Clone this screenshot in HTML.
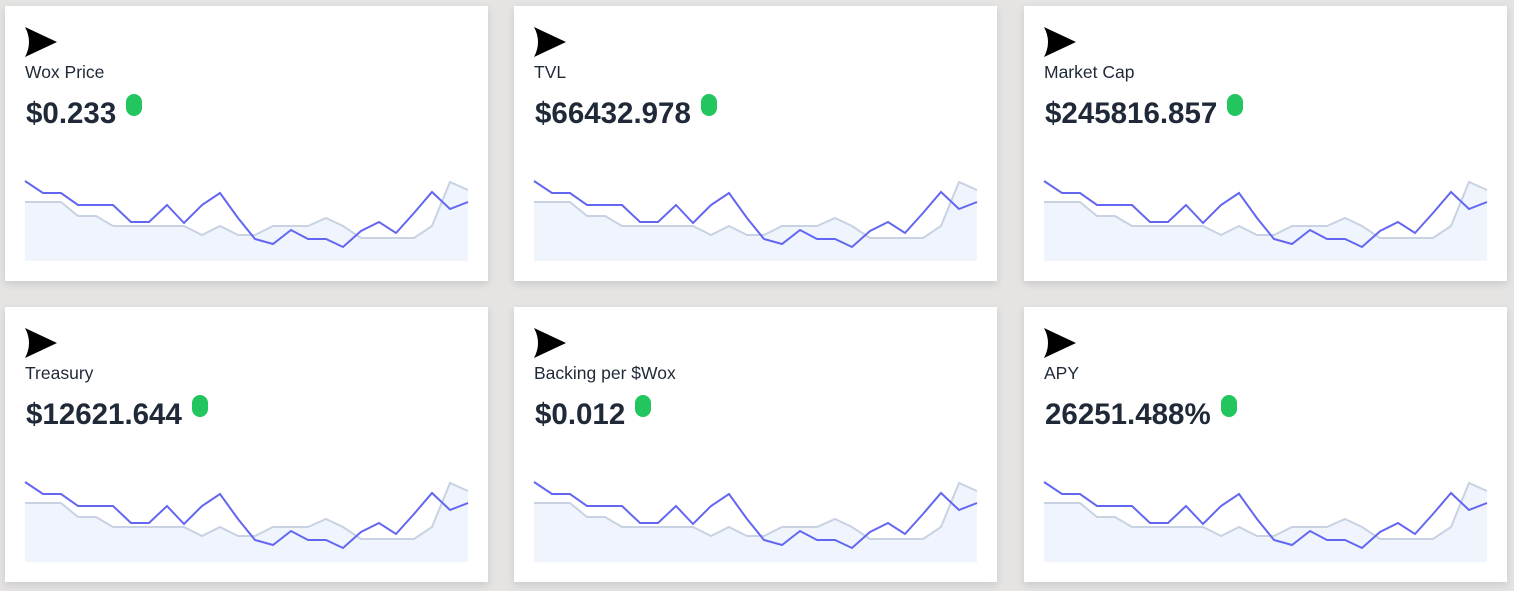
<!DOCTYPE html>
<html><head><style>
body{margin:0;width:1514px;height:591px;background:#e5e4e3;position:relative;overflow:hidden;font-family:"Liberation Sans",sans-serif;}
.c{position:absolute;width:483px;height:275px;background:#fff;box-shadow:0 3px 8px rgba(0,0,0,0.12);}
.c svg{position:absolute;left:0;top:0}
.l{position:absolute;left:20px;top:56px;font-size:17.5px;color:#1f2937;}
.v{position:absolute;left:21px;top:91px;font-size:29.5px;font-weight:bold;color:#1f2937;white-space:nowrap}
.v i{display:inline-block;width:16px;height:22px;border-radius:8px;background:#22c55e;vertical-align:top;margin-left:10px;margin-top:-3px}
</style></head><body>
<div class="c" style="left:5px;top:6px"><svg width="483" height="275"><path d="M20,21 L52,36 L20,51 Q28,36 20,21Z" fill="#000"/><polygon points="20,196 38,196 56,196 73,210 91,210 108,220 126,220 144,220 162,220 179,220 197,229 215,220 233,229 250,229 268,220 286,220 303,220 321,212 338,220 356,232 374,232 391,232 409,232 427,220 445,176 463,184 463,255 20,255" fill="#eff4fd"/><polyline points="20,196 38,196 56,196 73,210 91,210 108,220 126,220 144,220 162,220 179,220 197,229 215,220 233,229 250,229 268,220 286,220 303,220 321,212 338,220 356,232 374,232 391,232 409,232 427,220 445,176 463,184" fill="none" stroke="#c8d2e2" stroke-width="2"/><polyline points="20,175 38,187 56,187 73,199 91,199 108,199 126,216 144,216 162,199 179,217 197,199 215,187 233,212 250,233 268,238 286,224 303,233 321,233 338,241 356,225 374,216 391,227 409,207 427,186 445,203 463,196" fill="none" stroke="#6366f1" stroke-width="2"/></svg><div class="l">Wox Price</div><div class="v">$0.233<i></i></div></div>
<div class="c" style="left:514px;top:6px"><svg width="483" height="275"><path d="M20,21 L52,36 L20,51 Q28,36 20,21Z" fill="#000"/><polygon points="20,196 38,196 56,196 73,210 91,210 108,220 126,220 144,220 162,220 179,220 197,229 215,220 233,229 250,229 268,220 286,220 303,220 321,212 338,220 356,232 374,232 391,232 409,232 427,220 445,176 463,184 463,255 20,255" fill="#eff4fd"/><polyline points="20,196 38,196 56,196 73,210 91,210 108,220 126,220 144,220 162,220 179,220 197,229 215,220 233,229 250,229 268,220 286,220 303,220 321,212 338,220 356,232 374,232 391,232 409,232 427,220 445,176 463,184" fill="none" stroke="#c8d2e2" stroke-width="2"/><polyline points="20,175 38,187 56,187 73,199 91,199 108,199 126,216 144,216 162,199 179,217 197,199 215,187 233,212 250,233 268,238 286,224 303,233 321,233 338,241 356,225 374,216 391,227 409,207 427,186 445,203 463,196" fill="none" stroke="#6366f1" stroke-width="2"/></svg><div class="l">TVL</div><div class="v">$66432.978<i></i></div></div>
<div class="c" style="left:1024px;top:6px"><svg width="483" height="275"><path d="M20,21 L52,36 L20,51 Q28,36 20,21Z" fill="#000"/><polygon points="20,196 38,196 56,196 73,210 91,210 108,220 126,220 144,220 162,220 179,220 197,229 215,220 233,229 250,229 268,220 286,220 303,220 321,212 338,220 356,232 374,232 391,232 409,232 427,220 445,176 463,184 463,255 20,255" fill="#eff4fd"/><polyline points="20,196 38,196 56,196 73,210 91,210 108,220 126,220 144,220 162,220 179,220 197,229 215,220 233,229 250,229 268,220 286,220 303,220 321,212 338,220 356,232 374,232 391,232 409,232 427,220 445,176 463,184" fill="none" stroke="#c8d2e2" stroke-width="2"/><polyline points="20,175 38,187 56,187 73,199 91,199 108,199 126,216 144,216 162,199 179,217 197,199 215,187 233,212 250,233 268,238 286,224 303,233 321,233 338,241 356,225 374,216 391,227 409,207 427,186 445,203 463,196" fill="none" stroke="#6366f1" stroke-width="2"/></svg><div class="l">Market Cap</div><div class="v">$245816.857<i></i></div></div>
<div class="c" style="left:5px;top:307px"><svg width="483" height="275"><path d="M20,21 L52,36 L20,51 Q28,36 20,21Z" fill="#000"/><polygon points="20,196 38,196 56,196 73,210 91,210 108,220 126,220 144,220 162,220 179,220 197,229 215,220 233,229 250,229 268,220 286,220 303,220 321,212 338,220 356,232 374,232 391,232 409,232 427,220 445,176 463,184 463,255 20,255" fill="#eff4fd"/><polyline points="20,196 38,196 56,196 73,210 91,210 108,220 126,220 144,220 162,220 179,220 197,229 215,220 233,229 250,229 268,220 286,220 303,220 321,212 338,220 356,232 374,232 391,232 409,232 427,220 445,176 463,184" fill="none" stroke="#c8d2e2" stroke-width="2"/><polyline points="20,175 38,187 56,187 73,199 91,199 108,199 126,216 144,216 162,199 179,217 197,199 215,187 233,212 250,233 268,238 286,224 303,233 321,233 338,241 356,225 374,216 391,227 409,207 427,186 445,203 463,196" fill="none" stroke="#6366f1" stroke-width="2"/></svg><div class="l">Treasury</div><div class="v">$12621.644<i></i></div></div>
<div class="c" style="left:514px;top:307px"><svg width="483" height="275"><path d="M20,21 L52,36 L20,51 Q28,36 20,21Z" fill="#000"/><polygon points="20,196 38,196 56,196 73,210 91,210 108,220 126,220 144,220 162,220 179,220 197,229 215,220 233,229 250,229 268,220 286,220 303,220 321,212 338,220 356,232 374,232 391,232 409,232 427,220 445,176 463,184 463,255 20,255" fill="#eff4fd"/><polyline points="20,196 38,196 56,196 73,210 91,210 108,220 126,220 144,220 162,220 179,220 197,229 215,220 233,229 250,229 268,220 286,220 303,220 321,212 338,220 356,232 374,232 391,232 409,232 427,220 445,176 463,184" fill="none" stroke="#c8d2e2" stroke-width="2"/><polyline points="20,175 38,187 56,187 73,199 91,199 108,199 126,216 144,216 162,199 179,217 197,199 215,187 233,212 250,233 268,238 286,224 303,233 321,233 338,241 356,225 374,216 391,227 409,207 427,186 445,203 463,196" fill="none" stroke="#6366f1" stroke-width="2"/></svg><div class="l">Backing per $Wox</div><div class="v">$0.012<i></i></div></div>
<div class="c" style="left:1024px;top:307px"><svg width="483" height="275"><path d="M20,21 L52,36 L20,51 Q28,36 20,21Z" fill="#000"/><polygon points="20,196 38,196 56,196 73,210 91,210 108,220 126,220 144,220 162,220 179,220 197,229 215,220 233,229 250,229 268,220 286,220 303,220 321,212 338,220 356,232 374,232 391,232 409,232 427,220 445,176 463,184 463,255 20,255" fill="#eff4fd"/><polyline points="20,196 38,196 56,196 73,210 91,210 108,220 126,220 144,220 162,220 179,220 197,229 215,220 233,229 250,229 268,220 286,220 303,220 321,212 338,220 356,232 374,232 391,232 409,232 427,220 445,176 463,184" fill="none" stroke="#c8d2e2" stroke-width="2"/><polyline points="20,175 38,187 56,187 73,199 91,199 108,199 126,216 144,216 162,199 179,217 197,199 215,187 233,212 250,233 268,238 286,224 303,233 321,233 338,241 356,225 374,216 391,227 409,207 427,186 445,203 463,196" fill="none" stroke="#6366f1" stroke-width="2"/></svg><div class="l">APY</div><div class="v">26251.488%<i></i></div></div>
</body></html>
